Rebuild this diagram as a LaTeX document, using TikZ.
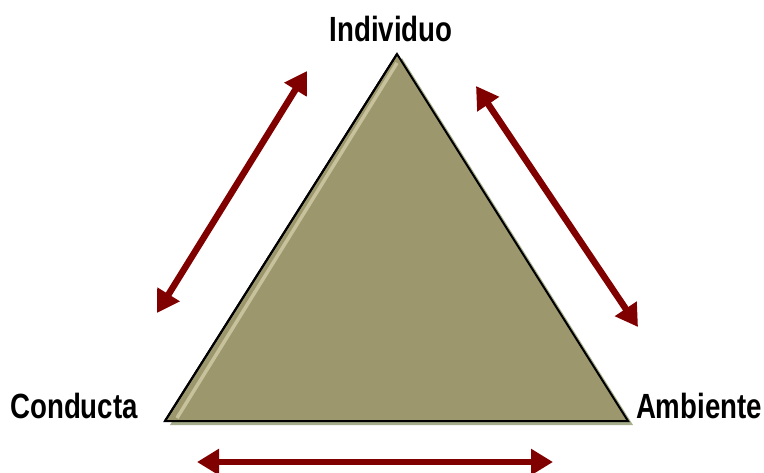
\documentclass[tikz,border=0pt]{standalone}
\usepackage{fontspec}
\setmainfont{Liberation Sans}
\usetikzlibrary{arrows.meta,calc}
\definecolor{trolive}{HTML}{9C976C}
\definecolor{trlight}{HTML}{C8C29C}
\definecolor{trshadow}{HTML}{A7AE8C}
\definecolor{trred}{HTML}{800000}
\tikzset{
  corner/.style ={font=\fontsize{35}{37}\selectfont\bfseries, text=black,
                  inner sep=0pt, xscale=0.79},
  link/.style   ={{Triangle[length=22pt,width=25pt]}-{Triangle[length=22pt,width=25pt]},
                  line width=6.5pt, draw=trred},
  tri/.style    ={fill=trolive, draw=black, line width=2pt, line join=miter}
}
\begin{document}
\begin{tikzpicture}[x=1pt,y=-1pt]
  \useasboundingbox (0,0) rectangle (764,472);
  % --- corners of the triangle
  \coordinate (top)   at (397,54);
  \coordinate (left)  at (165,421);
  \coordinate (right) at (628,421);
  % --- shadow, body, highlight
  \fill[trshadow] ($(left)+(5,4)$) -- ($(right)+(5,4)$) -- ($(top)+(5,4)$) -- cycle;
  \draw[tri] (top) -- (right) -- (left) -- cycle;
  \draw[trlight, line width=3.5pt] ($(top)+(0,9)$) -- ($(left)+(12,-3)$);
  \draw[black, line width=2pt] (left) -- (top);
  % --- labels
  \node[corner] (ind) at (391,29)  {Individuo};
  \node[corner] (con) at (74,406)  {Conducta};
  \node[corner] (amb) at (699,406) {Ambiente};
  % --- arrow ends
  \coordinate (l1) at (157,313); \coordinate (l2) at (307,71);
  \coordinate (r1) at (476,86);  \coordinate (r2) at (638,327);
  \coordinate (b1) at (197,462); \coordinate (b2) at (553,462);
  \draw[link] (l1) -- (l2);
  \draw[link] (r1) -- (r2);
  \draw[link] (b1) -- (b2);
\end{tikzpicture}
\end{document}
